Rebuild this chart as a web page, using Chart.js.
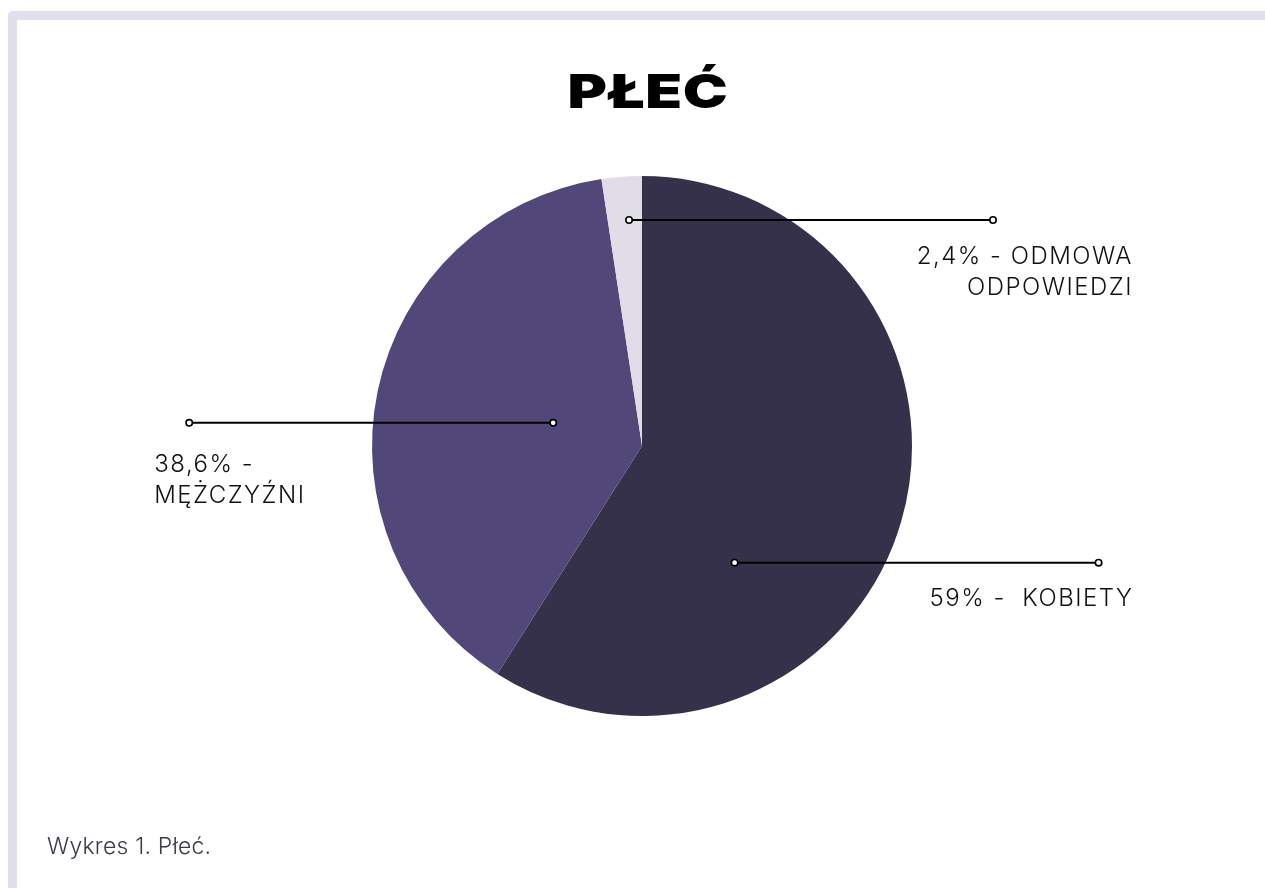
<!DOCTYPE html>
<html lang="pl">
<head>
<meta charset="utf-8">
<title>Płeć</title>
<script src="https://cdn.jsdelivr.net/npm/chart.js@4.4.1/dist/chart.umd.min.js"></script>
<style>
  html, body { margin: 0; padding: 0; background: #fff; overflow: hidden; }
  #frame {
    position: absolute; left: 8px; top: 11px; right: -10px; bottom: -10px;
    border-top: 9px solid #e0dfeb; border-left: 9px solid #e0dfeb;
    border-top-left-radius: 5px;
  }
  #title {
    position: absolute; left: 0; width: 1296px; top: 62px; text-align: center;
    font-family: Inter, sans-serif; font-weight: 900; font-size: 47px;
    color: #000; letter-spacing: 0.5px; transform: scaleX(1.28);
  }
  #caption {
    position: absolute; left: 47px; top: 832px;
    font-family: Inter, sans-serif; font-weight: 300; font-size: 23px; color: #3a3b48;
    letter-spacing: 0.2px;
  }
  #wrap { position: absolute; left: 0; top: 0; width: 1265px; height: 888px; }
</style>
</head>
<body>
<div id="frame"></div>
<div id="title">PŁEĆ</div>
<div id="wrap"><canvas id="chart"></canvas></div>
<div id="caption">Wykres 1. Płeć.</div>
<script>
// dane
const labels = ["KOBIETY", "MĘŻCZYŹNI", "ODMOWA ODPOWIEDZI"];
const values = [59, 38.6, 2.4];
const colors = ["#35314a", "#514879", "#e0dde9"];

const pct = (i) => String(values[i]).replace(".", ",") + "%";

// callout text (lines)
const calloutLines = [
  [pct(0) + " -  " + labels[0]],
  [pct(1) + " -", labels[1]],
  [pct(2) + " - ODMOWA", "ODPOWIEDZI"],
];

// where each leader line starts (relative to pie centre, in radii) and which way it runs
const callouts = [
  { fx: 0.343, fy: 0.432, dir: 1, align: "right", textDx: 35, textDy: [43] },
  { fx: -0.329, fy: -0.086, dir: -1, align: "left", textDx: -35, textDy: [49, 80] },
  { fx: -0.048, fy: -0.837, dir: 1, align: "right", textDx: 140, textDy: [44, 75] },
];

const calloutPlugin = {
  id: "callouts",
  afterDatasetsDraw(chart) {
    const ctx = chart.ctx;
    const meta = chart.getDatasetMeta(0);
    meta.data.forEach((arc, i) => {
      const c = callouts[i];
      const r = arc.outerRadius;
      const x1 = arc.x + c.fx * r;
      const y = arc.y + c.fy * r;
      const x2 = x1 + c.dir * 1.348 * r;
      ctx.save();
      ctx.strokeStyle = "#000";
      ctx.lineWidth = 2;
      ctx.beginPath();
      ctx.moveTo(x1, y);
      ctx.lineTo(x2, y);
      ctx.stroke();
      [x1, x2].forEach((px) => {
        ctx.beginPath();
        ctx.arc(px, y, 3.2, 0, Math.PI * 2);
        ctx.fillStyle = "#fff";
        ctx.fill();
        ctx.lineWidth = 1.6;
        ctx.stroke();
      });
      ctx.fillStyle = "#111";
      ctx.font = "300 24px Inter, sans-serif";
      ctx.letterSpacing = "1.5px";
      ctx.textAlign = c.align;
      ctx.textBaseline = "alphabetic";
      calloutLines[i].forEach((line, k) => {
        ctx.fillText(line, x2 + c.textDx, y + c.textDy[k]);
      });
      ctx.restore();
    });
  },
};

new Chart(document.getElementById("chart"), {
  type: "pie",
  data: {
    labels: labels,
    datasets: [{
      data: values,
      backgroundColor: colors,
      borderWidth: 0,
      hoverOffset: 0,
    }],
  },
  options: {
    responsive: true,
    maintainAspectRatio: false,
    animation: false,
    layout: { padding: { left: 372, right: 353, top: 176, bottom: 172 } },
    plugins: {
      legend: { display: false },
      tooltip: { enabled: false },
    },
  },
  plugins: [calloutPlugin],
});
</script>
</body>
</html>
